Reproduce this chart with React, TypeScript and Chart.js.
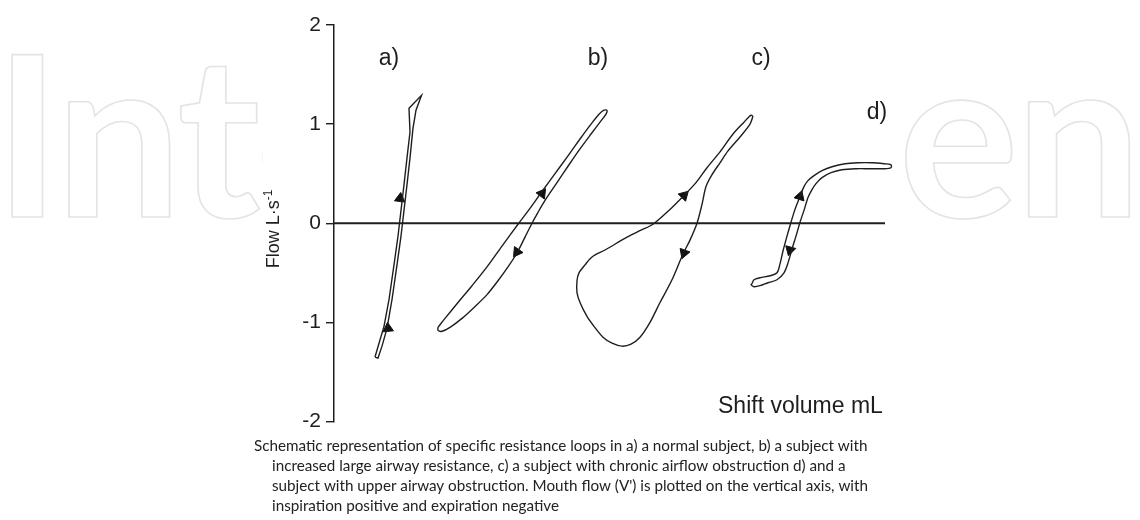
import React, { useEffect, useRef } from "react";
import { Chart, registerables } from "chart.js";

Chart.register(...registerables);

// ---- data (x: shift volume, arbitrary mL units; y: flow L/s) ----
const yTickValues = [-2, -1, 0, 1, 2];

const loopA: [number, number][] = [
  [4.1, -1.35], [4.5, -1.21], [5.0, -1.04], [5.5, -0.77], [6.0, -0.42], [6.4, -0.13],
  [6.7, 0.13], [7.0, 0.39], [7.3, 0.66], [7.6, 0.92], [7.5, 1.16], [8.75, 1.29],
  [8.2, 1.14], [7.9, 0.96], [7.6, 0.66], [7.3, 0.39], [7.0, 0.13], [6.7, -0.13],
  [6.3, -0.42], [5.8, -0.77], [5.3, -1.06], [4.8, -1.24], [4.4, -1.36], [4.1, -1.35],
];

const loopB: [number, number][] = [
  [10.4, -1.05], [11.1, -0.96], [12.4, -0.8], [13.8, -0.63], [15.3, -0.44], [16.8, -0.23],
  [18.4, -0.01], [19.6, 0.15], [20.8, 0.32], [22.1, 0.5], [23.4, 0.68], [24.6, 0.85],
  [25.7, 1.0], [26.5, 1.1], [27.0, 1.14], [27.3, 1.14],
  [27.2, 1.1], [26.6, 1.02], [25.7, 0.9], [24.6, 0.75], [23.5, 0.59], [22.3, 0.41],
  [21.1, 0.23], [20.4, 0.11], [19.8, 0.0], [19.1, -0.14], [18.3, -0.3], [17.4, -0.44],
  [16.4, -0.58], [15.3, -0.72], [14.1, -0.84], [12.8, -0.96], [11.6, -1.05], [10.8, -1.09],
  [10.4, -1.08], [10.4, -1.05],
];

const loopC: [number, number][] = [
  [41.9, 1.08], [41.6, 1.0], [40.6, 0.87], [39.4, 0.73], [38.6, 0.61], [37.8, 0.49],
  [37.2, 0.37], [36.8, 0.19], [36.3, 0.0], [35.6, -0.17], [34.9, -0.31], [33.8, -0.57],
  [32.6, -0.8], [31.6, -1.0], [30.6, -1.15], [29.7, -1.22], [28.8, -1.24], [27.8, -1.21],
  [26.9, -1.15], [26.0, -1.04], [25.3, -0.94], [24.6, -0.8], [24.3, -0.7], [24.3, -0.58],
  [24.5, -0.5], [25.1, -0.42], [25.8, -0.34], [27.1, -0.27], [29.3, -0.14], [30.7, -0.07],
  [31.9, -0.01], [33.4, 0.12], [34.9, 0.27], [36.2, 0.41], [37.3, 0.56], [38.6, 0.72],
  [39.9, 0.9], [41.0, 1.02], [41.7, 1.09], [41.9, 1.08],
];

const loopD: [number, number][] = [
  [41.8, -0.61], [42.0, -0.57], [42.6, -0.55], [43.6, -0.53], [44.3, -0.5], [44.6, -0.41],
  [44.9, -0.28], [45.3, -0.13], [45.7, 0.01], [46.1, 0.14], [46.6, 0.27], [47.0, 0.37],
  [47.4, 0.43], [48.0, 0.48], [48.8, 0.53], [49.8, 0.57], [51.1, 0.6], [52.4, 0.61],
  [53.8, 0.61], [55.0, 0.6], [55.7, 0.59], [55.7, 0.56], [55.0, 0.55], [53.6, 0.55],
  [52.2, 0.55], [50.8, 0.54], [49.7, 0.51], [48.8, 0.46], [48.2, 0.4], [47.8, 0.34],
  [47.4, 0.26], [47.0, 0.13], [46.6, 0.01], [46.2, -0.13], [45.8, -0.26], [45.4, -0.4],
  [45.0, -0.5], [44.3, -0.57], [43.4, -0.6], [42.6, -0.63], [42.0, -0.64], [41.7, -0.62],
  [41.8, -0.61],
];

const arrowX = [6.6, 5.4, 20.8, 18.3, 35.0, 35.0, 46.6, 45.6];
const arrowY = [0.25, -1.06, 0.3, -0.29, 0.28, -0.3, 0.27, -0.27];
const arrowRotation = [7, 115, 37, 215, 45, 200, 18, 195];

const zeroLineX = [0, 55.1];

const loopLabels = ["a)", "b)", "c)", "d)"];
const loopLabelX = [5.5, 26.4, 42.7, 54.3];
const loopLabelY = [1.66, 1.66, 1.66, 1.12];

const xAxisTitle = "Shift volume mL";
const yAxisTitle = "Flow L·s";
const yAxisTitleSup = "-1";
const watermarkText = "IntechOpen";

const captionLines = [
  "Schematic representation of specific resistance loops in a) a normal subject, b) a subject with",
  "increased large airway resistance, c) a subject with chronic airflow obstruction d) and a",
  "subject with upper airway obstruction. Mouth flow (V') is plotted on the vertical axis, with",
  "inspiration positive and expiration negative",
];

const INK = "#1e1e1e";

const toPoints = (arr: [number, number][]) => arr.map(([x, y]) => ({ x, y }));

export default function App() {
  const canvasRef = useRef<HTMLCanvasElement | null>(null);

  useEffect(() => {
    document.body.style.margin = "0";
    const canvas = canvasRef.current;
    if (!canvas) return;

    const decorations = {
      id: "decorations",
      beforeDraw(chart: any) {
        const ctx = chart.ctx as CanvasRenderingContext2D;
        ctx.save();
        ctx.fillStyle = "#ffffff";
        ctx.fillRect(0, 0, chart.width, chart.height);
        // faint outlined watermark
        ctx.font = "700 225px Lato";
        ctx.textBaseline = "alphabetic";
        ctx.textAlign = "left";
        const mI = ctx.measureText("I");
        const startX = 12 + mI.actualBoundingBoxLeft;
        const m0 = ctx.measureText(watermarkText);
        const spacing = (1130 - startX - m0.actualBoundingBoxRight) / 9;
        (ctx as any).letterSpacing = `${spacing}px`;
        ctx.strokeStyle = "#e4e4e4";
        ctx.lineWidth = 1.6;
        ctx.strokeText(watermarkText, startX, 217);
        ctx.restore();
        ctx.save();
        ctx.fillStyle = "#ffffff";
        ctx.fillRect(263, 0, 635, 430);
        ctx.restore();
      },
      afterDraw(chart: any) {
        const ctx = chart.ctx as CanvasRenderingContext2D;
        const xs = chart.scales.x;
        const ys = chart.scales.y;
        ctx.save();
        ctx.fillStyle = INK;
        // loop labels
        ctx.font = "23px 'Liberation Sans', Arial, sans-serif";
        ctx.textAlign = "center";
        ctx.textBaseline = "middle";
        loopLabels.forEach((t, i) => {
          ctx.fillText(t, xs.getPixelForValue(loopLabelX[i]), ys.getPixelForValue(loopLabelY[i]));
        });
        // x axis title
        ctx.textAlign = "left";
        ctx.textBaseline = "alphabetic";
        ctx.fillText(xAxisTitle, 718, 413);
        // y axis title (rotated)
        ctx.save();
        ctx.translate(279, 229);
        ctx.rotate(-Math.PI / 2);
        ctx.font = "18px 'Liberation Sans', Arial, sans-serif";
        const w1 = ctx.measureText(yAxisTitle).width;
        ctx.font = "12px 'Liberation Sans', Arial, sans-serif";
        const w2 = ctx.measureText(yAxisTitleSup).width;
        const start = -(w1 + w2) / 2;
        ctx.font = "18px 'Liberation Sans', Arial, sans-serif";
        ctx.fillText(yAxisTitle, start, 0);
        ctx.font = "12px 'Liberation Sans', Arial, sans-serif";
        ctx.fillText(yAxisTitleSup, start + w1, -7);
        ctx.restore();
        // caption: font size fitted so the first line spans its width in the reference
        ctx.fillStyle = "#222222";
        ctx.font = "14px Lato, 'Open Sans', sans-serif";
        const base = ctx.measureText(captionLines[0]).width;
        const size = Math.min(15.5, (14 * 614) / base);
        ctx.font = `${size}px Lato, 'Open Sans', sans-serif`;
        const capX = [254, 272, 272, 272];
        captionLines.forEach((line, i) => {
          ctx.fillText(line, capX[i], 451 + i * 20, 620);
        });
        ctx.restore();
      },
    };

    const loopStyle = {
      showLine: true,
      borderColor: INK,
      borderWidth: 1.4,
      pointRadius: 0,
      pointHoverRadius: 0,
      fill: false,
    };

    const chart = new Chart(canvas, {
      type: "scatter",
      data: {
        datasets: [
          {
            label: "zero",
            data: zeroLineX.map((x) => ({ x, y: 0 })),
            showLine: true,
            borderColor: INK,
            borderWidth: 2,
            pointRadius: 0,
          },
          { label: "a", data: toPoints(loopA), ...loopStyle, tension: 0 },
          { label: "b", data: toPoints(loopB), ...loopStyle, tension: 0.3 },
          { label: "c", data: toPoints(loopC), ...loopStyle, tension: 0.3 },
          { label: "d", data: toPoints(loopD), ...loopStyle, tension: 0.3 },
          {
            label: "arrows",
            data: arrowX.map((x, i) => ({ x, y: arrowY[i] })),
            showLine: false,
            pointStyle: "triangle",
            pointRadius: 6,
            rotation: arrowRotation,
            backgroundColor: "#111",
            borderColor: "#111",
            borderWidth: 1,
          } as any,
        ],
      },
      options: {
        animation: false,
        responsive: true,
        maintainAspectRatio: false,
        events: [],
        layout: { padding: { left: 0, top: 25, right: 236, bottom: 98.5 } },
        plugins: {
          legend: { display: false },
          tooltip: { enabled: false },
          title: { display: false },
        },
        scales: {
          x: { type: "linear", min: 0, max: 57, display: false },
          y: {
            type: "linear",
            min: -2,
            max: 2,
            afterFit: (scale: any) => {
              scale.width = 334;
            },
            afterBuildTicks: (scale: any) => {
              scale.ticks = yTickValues.map((v) => ({ value: v }));
            },
            ticks: {
              color: INK,
              padding: 5,
              font: { family: "'Liberation Sans', Arial, sans-serif", size: 21 },
            },
            grid: {
              drawOnChartArea: false,
              drawTicks: true,
              tickLength: 8,
              color: INK,
              lineWidth: 1.4,
            },
            border: { display: true, color: INK, width: 1.5 },
          },
        },
      },
      plugins: [decorations],
    } as any);

    return () => chart.destroy();
  }, []);

  return (
    <div style={{ position: "relative", width: 1140, height: 520 }}>
      <canvas ref={canvasRef} />
    </div>
  );
}
